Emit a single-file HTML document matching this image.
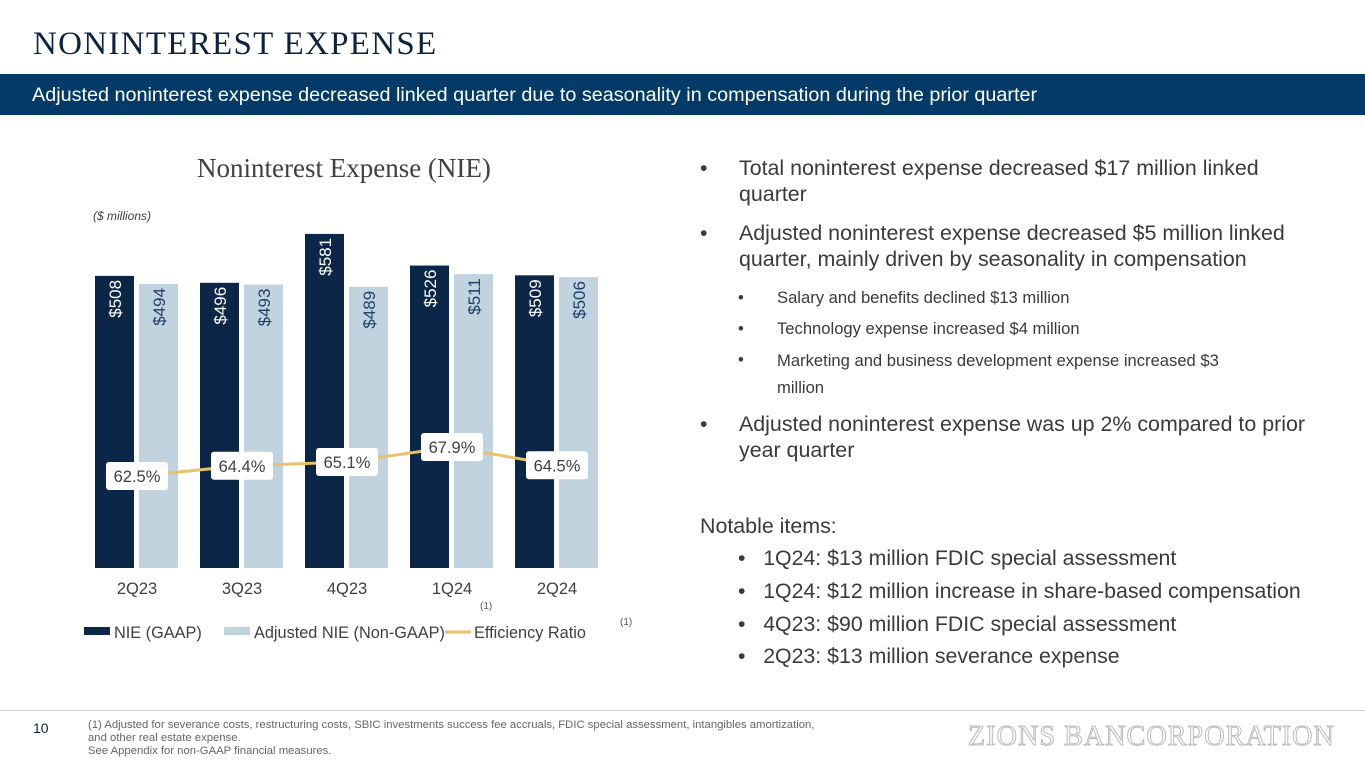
<!DOCTYPE html>
<html><head><meta charset="utf-8"><style>
body{margin:0;width:1365px;height:768px;position:relative;background:#fff;font-family:"Liberation Sans",sans-serif;overflow:hidden}
.a{position:absolute;white-space:nowrap}
.t{color:#3a3a3a;font-size:21.4px;line-height:26px}
.s{color:#3a3a3a;font-size:16.6px;line-height:26px}
.n{color:#3a3a3a;font-size:21.3px;line-height:26px}
</style></head><body>
<div class="a" style="left:33px;top:26px;font-family:'Liberation Serif',serif;font-size:33px;color:#0c2340;letter-spacing:1.3px">NONINTEREST EXPENSE</div>
<div class="a" style="left:0;top:74px;width:1365px;height:41px;background:#033a68"></div>
<div class="a" style="left:32px;top:84px;font-size:19.8px;color:#fff">Adjusted noninterest expense decreased linked quarter due to seasonality in compensation during the prior quarter</div>
<div class="a" style="left:197px;top:153px;font-family:'Liberation Serif',serif;font-size:27px;color:#404040">Noninterest Expense (NIE)</div>
<div class="a" style="left:93px;top:209px;font-size:12px;color:#404040;font-style:italic">($ millions)</div>
<svg class="a" style="left:0;top:0" width="700" height="700" id="chart"></svg>
<div class="a" style="left:480px;top:601px;font-size:10px;color:#555">(1)</div>

<div class="a t" style="left:700px;top:155px">•</div>
<div class="a t" style="left:739px;top:155px">Total noninterest expense decreased $17 million linked<br>quarter</div>
<div class="a t" style="left:700px;top:220px">•</div>
<div class="a t" style="left:739px;top:220px">Adjusted noninterest expense decreased $5 million linked<br>quarter, mainly driven by seasonality in compensation</div>
<div class="a s" style="left:738px;top:285px">•</div>
<div class="a s" style="left:777px;top:285px">Salary and benefits declined $13 million</div>
<div class="a s" style="left:738px;top:316px">•</div>
<div class="a s" style="left:777px;top:316px">Technology expense increased $4 million</div>
<div class="a s" style="left:738px;top:347px">•</div>
<div class="a s" style="left:777px;top:347px;line-height:27px">Marketing and business development expense increased $3<br>million</div>
<div class="a t" style="left:700px;top:411px">•</div>
<div class="a t" style="left:739px;top:411px">Adjusted noninterest expense was up 2% compared to prior<br>year quarter</div>
<div class="a t" style="left:700px;top:513px">Notable items:</div>
<div class="a n" style="left:738px;top:545px">•&nbsp;&nbsp; 1Q24: $13 million FDIC special assessment</div>
<div class="a n" style="left:738px;top:578px">•&nbsp;&nbsp; 1Q24: $12 million increase in share-based compensation</div>
<div class="a n" style="left:738px;top:611px">•&nbsp;&nbsp; 4Q23: $90 million FDIC special assessment</div>
<div class="a n" style="left:738px;top:643px">•&nbsp;&nbsp; 2Q23: $13 million severance expense</div>

<div class="a" style="left:0;top:710px;width:1365px;height:1px;background:#ccc"></div>
<div class="a" style="left:33px;top:720px;font-size:14px;color:#0c2340">10</div>
<div class="a" style="left:88px;top:719px;font-size:11.3px;color:#666;line-height:13px">(1) Adjusted for severance costs, restructuring costs, SBIC investments success fee accruals, FDIC special assessment, intangibles amortization,<br>and other real estate expense.<br>See Appendix for non-GAAP financial measures.</div>
<div class="a" style="left:968px;top:721px;font-family:'Liberation Serif',serif;font-size:28.2px;color:#fff;-webkit-text-stroke:1px #bbb;letter-spacing:1px">ZIONS BANCORPORATION</div>

<script>
const categories=["2Q23","3Q23","4Q23","1Q24","2Q24"];
const nieGaap=[508,496,581,526,509];
const nieAdjusted=[494,493,489,511,506];
const efficiency=[62.5,64.4,65.1,67.9,64.5];
const svg=document.getElementById('chart');
const NS='http://www.w3.org/2000/svg';
const yBar=v=>568-v*0.575;
const yEff=v=>476-(v-62.5)*5.37;
const xc=i=>137+105*i;
function mk(t,a){const e=document.createElementNS(NS,t);for(const k in a)e.setAttribute(k,a[k]);svg.appendChild(e);return e;}
categories.forEach((c,i)=>{
  [[nieGaap,'#0b2646','#fff',-42],[nieAdjusted,'#c2d3e0','#1f4068',2]].forEach(([arr,fill,tc,off],j)=>{
    const x=xc(i)+off,y=yBar(arr[i]);
    const r=mk('rect',{x:x,y:y,width:39,height:568-y,fill:fill});
    
    
    const t=mk('text',{transform:`translate(${x+26},${y+4}) rotate(-90)`,'text-anchor':'end','font-size':'17','fill':tc,'font-family':'Liberation Sans'});
    t.textContent='$'+arr[i];
    
    
  });
  const l=mk('text',{x:xc(i),y:594,'text-anchor':'middle','font-size':'16.5','fill':'#404040','font-family':'Liberation Sans'});
  l.textContent=c;
  
  
});
const pl=mk('polyline',{points:efficiency.map((v,i)=>xc(i)+','+yEff(v)).join(' '),fill:'none',stroke:'#e8c26a','stroke-width':'3'});


efficiency.forEach((v,i)=>{
  const y=yEff(v);
  const r=mk('rect',{x:xc(i)-31,y:y-14,width:62,height:28,rx:3,fill:'#fff'});
  
  
  const t=mk('text',{x:xc(i),y:y+6,'text-anchor':'middle','font-size':'16.5','fill':'#404040','font-family':'Liberation Sans'});
  t.textContent=v.toFixed(1)+'%';
  
  
});
const lg=[[84,'#0b2646','NIE (GAAP)','rect'],[224,'#c2d3e0','Adjusted NIE (Non-GAAP)','rect'],[444,'#e8c26a','Efficiency Ratio','line']];
lg.forEach(([x,col,txt,k])=>{
  let m;
  if(k==='rect')m=mk('rect',{x:x,y:627,width:26,height:8,fill:col});
  else m=mk('line',{x1:x+1,x2:x+27,y1:632,y2:632,stroke:col,'stroke-width':'3'});
  
  
  const t=mk('text',{x:x+30,y:638,'font-size':'16.3','fill':'#404040','font-family':'Liberation Sans'});
  t.textContent=txt;
  
  
});
const sup=mk('text',{x:620,y:625,'font-size':'10','fill':'#555','font-family':'Liberation Sans'});
sup.textContent='(1)';


</script>
</body></html>
